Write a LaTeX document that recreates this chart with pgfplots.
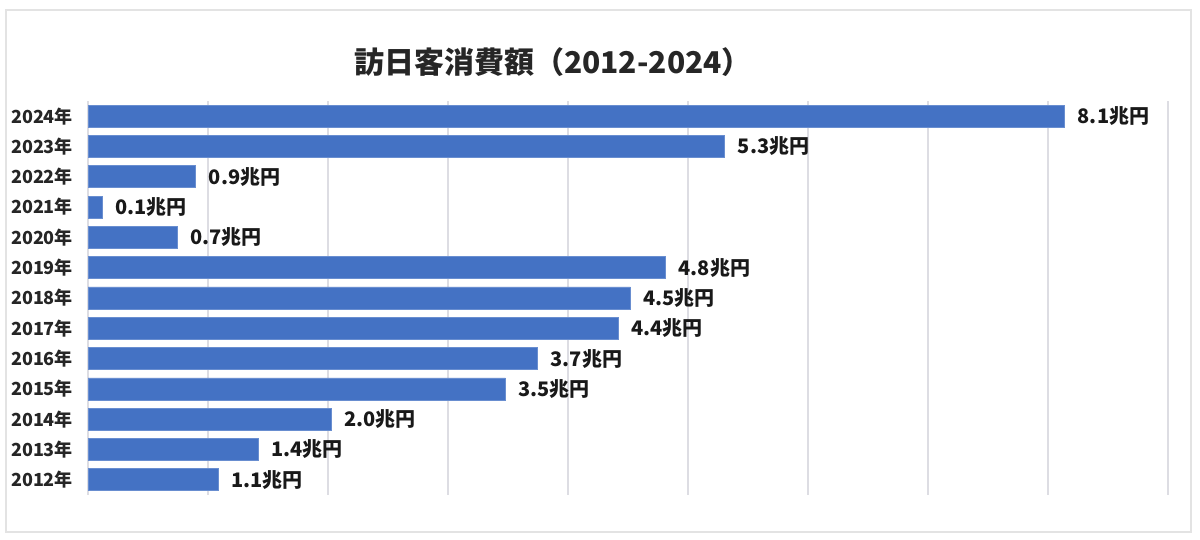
\documentclass[border=0pt]{standalone}
\usepackage{fontspec}
\setmainfont{Noto Sans CJK JP}
\usepackage{pgfplots}
\pgfplotsset{compat=1.18}
\definecolor{barblue}{HTML}{4472C4}
\definecolor{gridgray}{HTML}{DDDDE3}
\definecolor{framegray}{HTML}{E3E3E3}
\begin{document}
\begin{tikzpicture}[x=1pt,y=1pt]
  % 1 px of the reference = 0.5pt
  \useasboundingbox (0,0) rectangle (600,270);
  \draw[framegray, line width=0.8pt] (3,4) rectangle (595.5,265);
  \node[font=\fontsize{15}{18}\selectfont\bfseries, text=black!85] at (276.5,239) {訪日客消費額（2012-2024）};
  \begin{axis}[
    at={(44pt,22.5pt)}, anchor=south west,
    scale only axis,
    width=540pt, height=197pt,
    xbar, bar width=11pt,
    xmin=0, xmax=9,
    ymin=-0.5, ymax=12.5,
    axis line style={draw=none},
    xtick={0,...,9}, xticklabels={},
    xmajorgrids, grid style={gridgray, line width=0.6pt},
    major tick length=0pt,
    ytick={0,...,12},
    yticklabels={2012年,2013年,2014年,2015年,2016年,2017年,2018年,2019年,2020年,2021年,2022年,2023年,2024年},
    yticklabel style={font=\fontsize{9}{10}\selectfont\bfseries, text=black!85, xshift=-4pt},
    point meta=explicit symbolic,
    nodes near coords,
    nodes near coords style={font=\fontsize{10}{12}\selectfont\bfseries, text=black!90, anchor=west, xshift=3pt},
  ]
    \addplot[fill=barblue, draw=barblue!80!white, line width=0.4pt] coordinates {
      (1.0846,0) [1.1兆円]
      (1.4167,1) [1.4兆円]
      (2.0278,2) [2.0兆円]
      (3.4771,3) [3.5兆円]
      (3.7476,4) [3.7兆円]
      (4.4162,5) [4.4兆円]
      (4.5189,6) [4.5兆円]
      (4.8135,7) [4.8兆円]
      (0.7446,8) [0.7兆円]
      (0.1208,9) [0.1兆円]
      (0.8987,10) [0.9兆円]
      (5.3065,11) [5.3兆円]
      (8.1395,12) [8.1兆円]
    };
  \end{axis}
\end{tikzpicture}
\end{document}
